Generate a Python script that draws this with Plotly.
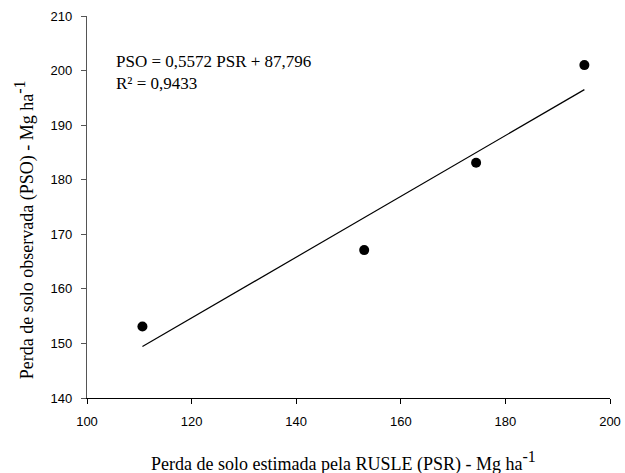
import plotly.graph_objects as go

psr = [110.6, 153.0, 174.4, 195.1]
pso = [153.1, 167.1, 183.1, 201.0]
slope = 0.5572
intercept = 87.796
fit_x = [min(psr), max(psr)]
fit_y = [slope * v + intercept for v in fit_x]
x_ticks = [100, 120, 140, 160, 180, 200]
y_ticks = [140, 150, 160, 170, 180, 190, 200, 210]

serif = "Liberation Serif"
fig = go.Figure()
fig.add_trace(go.Scatter(x=fit_x, y=fit_y, mode="lines",
                         line=dict(color="black", width=1.2), showlegend=False))
fig.add_trace(go.Scatter(x=psr, y=pso, mode="markers",
                         marker=dict(color="black", size=10), showlegend=False))

fig.add_annotation(xref="paper", yref="paper", x=0.052, y=0.852, xanchor="left", yanchor="middle",
                   text="PSO = 0,5572 PSR + 87,796<br>R² = 0,9433", showarrow=False, align="left",
                   font=dict(family=serif, size=17, color="black"))

sup = "<sup><span style='font-size:16px'>-1</span></sup>"
fig.add_annotation(xref="paper", yref="paper", x=0.49, y=-0.165, xanchor="center", yanchor="middle",
                   text="Perda de solo estimada pela RUSLE (PSR) - Mg ha" + sup, showarrow=False,
                   font=dict(family=serif, size=18, color="black"))
fig.add_annotation(xref="paper", yref="paper", x=-0.118, y=0.44, xanchor="center", yanchor="middle",
                   text="Perda de solo observada (PSO) - Mg ha" + sup, showarrow=False, textangle=-90,
                   font=dict(family=serif, size=18, color="black"))

fig.update_layout(
    width=625, height=473,
    margin=dict(l=87, r=15, t=16, b=75),
    plot_bgcolor="white", paper_bgcolor="white",
    xaxis=dict(range=[100, 200], tickvals=x_ticks, showgrid=False, zeroline=False, automargin=False,
               showline=True, linecolor="black", linewidth=1.2,
               ticks="outside", ticklen=5, tickcolor="black", ticklabelstandoff=6,
               tickfont=dict(family="Liberation Sans", size=13, color="black")),
    yaxis=dict(range=[140, 210], tickvals=y_ticks, showgrid=False, zeroline=False, automargin=False,
               showline=True, linecolor="#555", linewidth=1.2,
               ticks="outside", ticklen=5, tickcolor="#555", ticklabelstandoff=6,
               tickfont=dict(family="Liberation Sans", size=13, color="black")),
)
fig.write_html("out.html", config={"displayModeBar": False},
               post_script="document.body.style.margin='0';document.body.style.overflow='hidden';")
